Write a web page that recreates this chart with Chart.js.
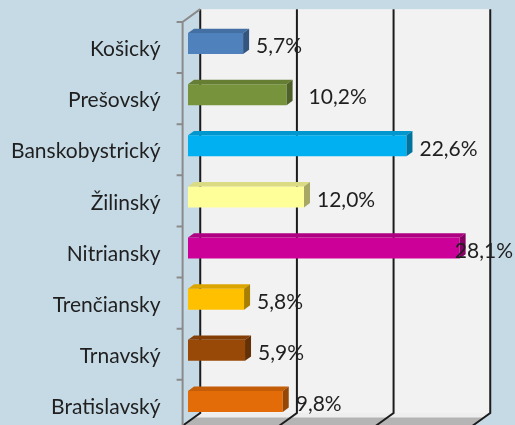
<!DOCTYPE html>
<html>
<head>
<meta charset="utf-8">
<script src="https://cdn.jsdelivr.net/npm/chart.js@4"></script>
<style>
  html, body { margin: 0; padding: 0; overflow: hidden; background: #c6dae6; }
  canvas { display: block; }
</style>
</head>
<body>
<canvas id="regions" width="515" height="440"></canvas>
<script>
const regions = ['Košický', 'Prešovský', 'Banskobystrický', 'Žilinský', 'Nitriansky', 'Trenčiansky', 'Trnavský', 'Bratislavský']
const shares = [5.7, 10.2, 22.6, 12.0, 28.1, 5.8, 5.9, 9.8]
const barColors = ['#4f81bd', '#77933c', '#00b0f0', '#ffff99', '#cc0099', '#ffc000', '#984807', '#e36c09']
const axisTicks = [0, 10, 20, 30]

const labelFont = '21px Lato'
const textColor = '#1f1f1f'
const depth = { x: 18, y: -13 }   // full depth of the 3D box
const frontPart = 0.3             // bars sit this far into the box

const shade = (hex, f) => {
  const n = parseInt(hex.slice(1), 16)
  const r = Math.round(((n >> 16) & 255) * f)
  const g = Math.round(((n >> 8) & 255) * f)
  const b = Math.round((n & 255) * f)
  return `rgb(${r},${g},${b})`
}

const fmt = v => v.toFixed(1).replace('.', ',') + '%'

const poly = (ctx, pts, fill) => {
  ctx.beginPath()
  ctx.moveTo(pts[0][0], pts[0][1])
  pts.slice(1).forEach(p => ctx.lineTo(p[0], p[1]))
  ctx.closePath()
  ctx.fillStyle = fill
  ctx.fill()
}

const box3d = {
  id: 'box3d',
  beforeDatasetsDraw(chart) {
    const { ctx, chartArea: a, scales: { x, y } } = chart
    const bx = depth.x * (1 - frontPart - 0.02)
    const by = depth.y * (1 - frontPart - 0.02)
    const left = x.getPixelForValue(axisTicks[0]) + bx
    const right = x.getPixelForValue(axisTicks[axisTicks.length - 1]) + bx
    const top = a.top + by
    const bottom = a.bottom - 14
    ctx.save()
    // back wall
    ctx.fillStyle = '#f2f2f2'
    ctx.fillRect(left, top, right - left, bottom - top)
    // floor
    poly(ctx, [[left, bottom], [right, bottom], [right - depth.x, bottom - depth.y], [left - depth.x, bottom - depth.y]], '#b4b4b4')
    poly(ctx, [[left, bottom], [right, bottom], [right - 6, bottom + 4.5], [left - 6, bottom + 4.5]], '#eeeeee')
    // grid lines on wall and floor
    ctx.strokeStyle = '#1c1c1c'
    ctx.lineWidth = 2
    axisTicks.forEach(v => {
      const px = x.getPixelForValue(v) + bx
      ctx.beginPath()
      ctx.moveTo(px, top)
      ctx.lineTo(px, bottom)
      ctx.lineTo(px - depth.x, bottom - depth.y)
      ctx.stroke()
    })
    // side wall axis with category ticks
    const fx = a.left - depth.x * frontPart
    const fy = a.top - depth.y * frontPart
    ctx.strokeStyle = '#8a8a8a'
    ctx.beginPath()
    ctx.moveTo(left, top)
    ctx.lineTo(fx, fy)
    ctx.lineTo(fx, chart.height)
    const band = (a.bottom - a.top) / regions.length
    for (let i = 0; i <= regions.length; i++) {
      ctx.moveTo(fx, fy + i * band)
      ctx.lineTo(fx - 6, fy + i * band)
    }
    ctx.stroke()
    // category labels
    ctx.font = labelFont
    ctx.fillStyle = textColor
    ctx.textAlign = 'right'
    ctx.textBaseline = 'middle'
    regions.forEach((r, i) => {
      ctx.fillText(r, fx - 22, y.getPixelForValue(i) + fy - a.top + 2)
    })
    ctx.restore()
  },
  afterDatasetsDraw(chart) {
    const { ctx } = chart
    const meta = chart.getDatasetMeta(0)
    const dx = depth.x / 3, dy = depth.y / 3
    ctx.save()
    meta.data.forEach((bar, i) => {
      const { x, y, base, height } = bar.getProps(['x', 'y', 'base', 'height'], true)
      const t = y - height / 2, b = y + height / 2
      const c = barColors[i]
      poly(ctx, [[base, t], [x, t], [x + dx, t + dy], [base + dx, t + dy]], shade(c, 0.86))
      poly(ctx, [[x, t], [x + dx, t + dy], [x + dx, b + dy], [x, b]], shade(c, 0.66))

      const text = fmt(shares[i])
      ctx.font = labelFont
      const w = ctx.measureText(text).width
      const nudge = i === 1 ? 9 : 0
      const lx = Math.min(x + 13 + nudge, chart.width - w - 2)
      ctx.fillStyle = textColor
      ctx.textAlign = 'left'
      ctx.textBaseline = 'middle'
      ctx.fillText(text, lx, y + 3)
    })
    ctx.restore()
  }
}

new Chart(document.getElementById('regions'), {
  type: 'bar',
  data: {
    labels: regions,
    datasets: [{
      data: shares,
      backgroundColor: barColors,
      borderWidth: 0,
      barPercentage: 0.41,
      categoryPercentage: 1
    }]
  },
  plugins: [box3d],
  options: {
    indexAxis: 'y',
    responsive: false,
    animation: false,
    layout: { padding: { top: 18, bottom: 13, left: 188, right: 37 } },
    plugins: {
      legend: { display: false },
      tooltip: { enabled: false }
    },
    scales: {
      x: { display: false, min: 0, max: 30 },
      y: { display: false }
    }
  }
})
</script>
</body>
</html>
